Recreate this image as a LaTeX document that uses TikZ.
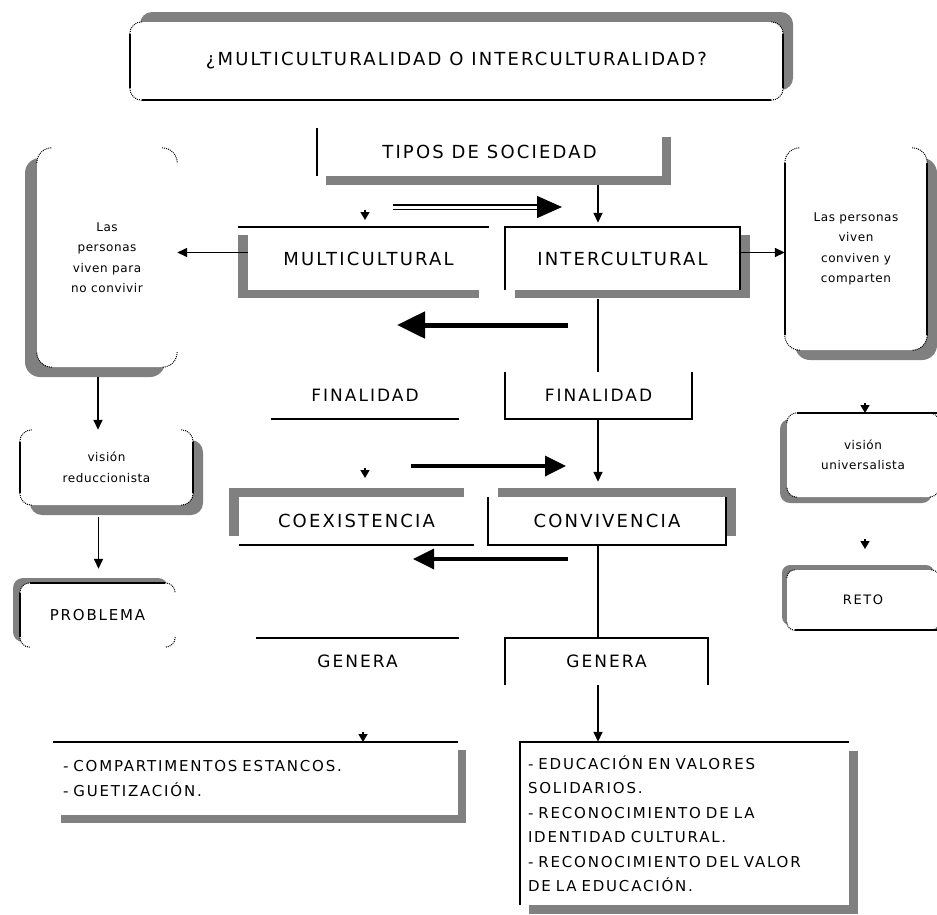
\documentclass[tikz,border=0pt]{standalone}
\usepackage{fontspec}
\setmainfont{DejaVu Sans}
\newfontfamily\capfont[LetterSpace=12]{DejaVu Sans}
\newfontfamily\lowfont[LetterSpace=5]{DejaVu Sans}
\usepackage{tikz}
\usetikzlibrary{arrows.meta, shadows, positioning}
\definecolor{shadowgray}{gray}{0.5}
\newcommand{\capsfont}{\capfont\fontsize{18}{21}\selectfont}
\newcommand{\midcaps}{\capfont\fontsize{17}{20}\selectfont}
\newcommand{\itemsfont}{\capfont\fontsize{15}{24.5}\selectfont}
\newcommand{\notefont}{\lowfont\fontsize{12}{20.5}\selectfont}
\tikzstyle{panel} = [rectangle, fill=white, inner sep=0pt, font=\capsfont]
\tikzstyle{edge} = [line width=1.8pt]
\tikzstyle{cornerdot} = [line width=1pt, densely dotted]
\tikzstyle{arrow} = [-{Triangle[length=10pt,width=9pt]}, line width=1.5pt]
\tikzstyle{stub} = [-{Triangle[length=8pt,width=9pt]}, line width=1.5pt]
\tikzstyle{bigarrow} = [-{Triangle[length=28pt,width=26pt]}, line width=5pt]
\tikzstyle{midarrow} = [-{Triangle[length=21pt,width=20pt]}, line width=3.5pt]
\tikzstyle{dblarrow} = [double, double distance=3pt, line width=1.3pt, -{Triangle[length=25pt,width=22pt]}]
\tikzset{boxshadow/.style 2 args={drop shadow={shadow xshift=#1, shadow yshift=#2, fill=shadowgray, opacity=1}}}
% dotted corners of a rounded panel: node, radius
\newcommand{\dotcorners}[2]{%
  \draw[cornerdot, rounded corners=#2] ([yshift=-#2]#1.north west) -- (#1.north west) -- ([xshift=#2]#1.north west);
  \draw[cornerdot, rounded corners=#2] ([xshift=-#2]#1.north east) -- (#1.north east) -- ([yshift=-#2]#1.north east);
  \draw[cornerdot, rounded corners=#2] ([yshift=#2]#1.south east) -- (#1.south east) -- ([xshift=-#2]#1.south east);
  \draw[cornerdot, rounded corners=#2] ([xshift=#2]#1.south west) -- (#1.south west) -- ([yshift=#2]#1.south west);
}

\begin{document}
\begin{tikzpicture}[x=1pt, y=-1pt]
\useasboundingbox (0,0) rectangle (937,914);

% centre column
\node[panel, rounded corners=12pt, boxshadow={10pt}{10pt}, minimum width=653pt, minimum height=78pt] (title) at (456.5,61) {¿MULTICULTURALIDAD O INTERCULTURALIDAD?};
\node[panel, boxshadow={9pt}{-9pt}, minimum width=345pt, minimum height=48pt] (tipos) at (489.5,152) {TIPOS DE SOCIEDAD};
\node[panel, boxshadow={-10pt}{-8pt}, minimum width=241pt, minimum height=63pt] (multi) at (368.5,258.5) {MULTICULTURAL};
\node[panel, boxshadow={10pt}{-8pt}, minimum width=235pt, minimum height=63pt] (inter) at (622.5,258.5) {INTERCULTURAL};
\node[panel, font=\midcaps, minimum width=188pt, minimum height=47pt] (finL) at (365,395.5) {FINALIDAD};
\node[panel, font=\midcaps, minimum width=187pt, minimum height=47pt] (finR) at (598.5,395.5) {FINALIDAD};
\node[panel, boxshadow={-10pt}{9pt}, minimum width=235pt, minimum height=48pt] (coex) at (356.5,521) {COEXISTENCIA};
\node[panel, boxshadow={10pt}{9pt}, minimum width=238pt, minimum height=48pt] (conv) at (607,521) {CONVIVENCIA};
\node[panel, font=\midcaps, minimum width=203pt, minimum height=47pt] (genL) at (357.5,661.5) {GENERA};
\node[panel, font=\midcaps, minimum width=203pt, minimum height=47pt] (genR) at (606.5,661.5) {GENERA};
\node[panel, boxshadow={8pt}{-8pt}, font=\itemsfont, align=left, text width=385pt, inner xsep=10pt, minimum height=73pt] (compart) at (255.5,778.5) {- COMPARTIMENTOS ESTANCOS.\\- GUETIZACIÓN.};
\node[panel, boxshadow={9pt}{-9pt}, font=\itemsfont, align=left, text width=313pt, inner xsep=8pt, minimum height=163pt] (educ) at (684.5,823.5) {- EDUCACIÓN EN VALORES\\SOLIDARIOS.\\- RECONOCIMIENTO DE LA\\IDENTIDAD CULTURAL.\\- RECONOCIMIENTO DEL VALOR\\DE LA EDUCACIÓN.};

% side columns
\node[panel, rounded corners=15pt, boxshadow={-12pt}{-10pt}, font=\notefont, align=center, minimum width=140pt, minimum height=219pt] (persL) at (107,257.5) {Las\\personas\\viven para\\no convivir};
\node[panel, rounded corners=12pt, boxshadow={10pt}{-10pt}, font=\notefont, align=center, minimum width=173pt, minimum height=75pt] (reduc) at (106.5,467.5) {visión\\reduccionista};
\node[panel, rounded corners=10pt, boxshadow={-7pt}{5pt}, font=\capfont\fontsize{15}{18}\selectfont, minimum width=155pt, minimum height=64pt] (problema) at (97.5,615) {PROBLEMA};
\node[panel, rounded corners=15pt, boxshadow={10pt}{-10pt}, font=\notefont, align=center, minimum width=142pt, minimum height=202pt] (persR) at (856,249) {Las personas\\viven\\conviven y\\comparten};
\node[panel, rounded corners=10pt, boxshadow={-7pt}{-6pt}, font=\notefont, align=center, minimum width=152pt, minimum height=84pt] (univ) at (863,455) {visión\\universalista};
\node[panel, rounded corners=8pt, boxshadow={-5pt}{5pt}, font=\capfont\fontsize{13}{16}\selectfont, minimum width=152pt, minimum height=60pt] (reto) at (863,600) {RETO};

% visible borders
\dotcorners{title}{12pt}
\draw[edge] ([yshift=-12pt]title.north west) -- ([yshift=12pt]title.south west);
\draw[edge] ([xshift=12pt]title.south west) -- ([xshift=-12pt]title.south east);
\draw[edge] ([yshift=-12pt]title.north east) -- ([yshift=12pt]title.south east);
\draw[edge] (tipos.north west) -- (tipos.south west);
\draw[edge] ([xshift=-10pt]multi.north west) -- (multi.north east);
\draw[edge] (inter.south west) -- (inter.north west) -- (inter.north east) -- (inter.south east);
\draw[edge] (finL.south west) -- (finL.south east);
\draw[edge] (finR.north west) -- (finR.south west) -- (finR.south east) -- (finR.north east);
\draw[edge] (coex.south west) -- (coex.south east);
\draw[edge] (conv.north west) -- (conv.south west) -- (conv.south east) -- (conv.north east);
\draw[edge] (genL.north west) -- (genL.north east);
\draw[edge] (genR.south west) -- (genR.north west) -- (genR.north east) -- (genR.south east);
\draw[edge] (compart.north west) -- (compart.north east);
\draw[edge] (educ.south west) -- (educ.north west) -- (educ.north east);
\dotcorners{persL}{15pt}
\dotcorners{reduc}{12pt}
\draw[edge] ([yshift=-12pt]reduc.north west) -- ([yshift=12pt]reduc.south west);
\draw[edge] ([yshift=-12pt]reduc.north east) -- ([yshift=12pt]reduc.south east);
\dotcorners{problema}{10pt}
\draw[edge] ([yshift=10pt]problema.south west) -- ([yshift=-10pt]problema.north west);
\draw[edge] ([xshift=10pt]problema.north west) -- ([xshift=-10pt]problema.north east);
\dotcorners{persR}{15pt}
\draw[edge] ([yshift=-15pt]persR.north west) -- ([yshift=15pt]persR.south west);
\draw[edge] ([yshift=-15pt]persR.north east) -- ([yshift=15pt]persR.south east);
\dotcorners{univ}{10pt}
\draw[edge] ([xshift=10pt]univ.north west) -- (univ.north east);
\dotcorners{reto}{8pt}
\draw[edge] ([xshift=8pt]reto.south west) -- (reto.south east);

% connectors
\coordinate (spine) at (598,0);
\draw[arrow, shorten <=9pt, shorten >=4pt] (tipos.south -| spine) -- (inter.north -| spine);
\draw[edge, shorten <=9pt] (inter.south -| spine) -- (finR.north -| spine);
\draw[arrow, shorten >=15pt] (finR.south -| spine) -- (conv.north -| spine);
\draw[edge] (conv.south -| spine) -- (genR.north -| spine);
\draw[arrow] (genR.south -| spine) -- (educ.north -| spine);
\draw[arrow] ([yshift=6pt]multi.west) -- ([yshift=6pt]multi.west -| persL.east);
\draw[arrow] ([yshift=6pt]inter.east) -- ([yshift=6pt]inter.east -| persR.west);
\draw[arrow, shorten <=10pt] ([xshift=-9pt]persL.south) -- ([xshift=-9pt]persL.south |- reduc.north);
\draw[arrow, shorten <=12pt, shorten >=14pt] ([xshift=-8pt]reduc.south) -- ([xshift=-8pt]reduc.south |- problema.north);

% loose arrows between the two columns
\coordinate (dblA) at (393,207);
\coordinate (dblB) at (562,207);
\draw[dblarrow] (dblA) -- (dblB);
\coordinate (thickA) at (568,325);
\coordinate (thickB) at (397,325);
\draw[bigarrow] (thickA) -- (thickB);
\coordinate (midA) at (411,466);
\coordinate (midB) at (566,466);
\draw[midarrow] (midA) -- (midB);
\coordinate (lowA) at (568,559);
\coordinate (lowB) at (413,559);
\draw[midarrow] (lowA) -- (lowB);

% lone arrow tips
\coordinate (tipMulti) at (365,220);
\coordinate (tipCoex) at (365,478);
\coordinate (tipComp) at (363,742);
\coordinate (tipUniv) at (865,413);
\coordinate (tipReto) at (865,549);
\foreach \t in {tipMulti, tipCoex, tipComp, tipUniv, tipReto}
  \draw[stub] ([yshift=10pt]\t) -- (\t);

\end{tikzpicture}
\end{document}
